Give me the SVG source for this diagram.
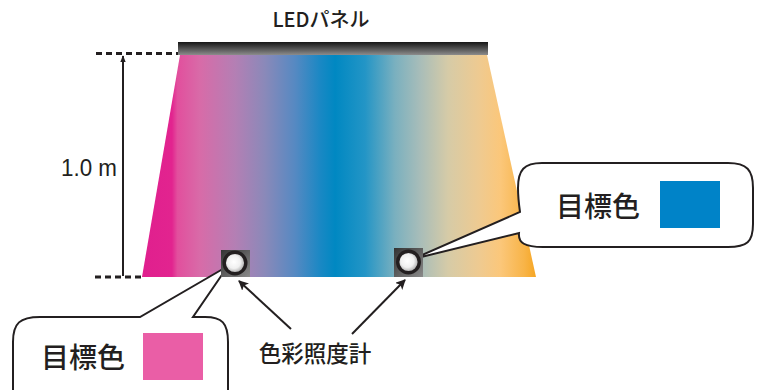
<svg xmlns="http://www.w3.org/2000/svg" width="764" height="390" viewBox="0 0 764 390">
<style>
.ln{stroke:#231f20;stroke-width:2;fill:none}
.dash{stroke:#231f20;stroke-width:2.8;stroke-dasharray:6,4;fill:none}
.bub{fill:#fff;stroke:#231f20;stroke-width:2;stroke-linejoin:miter}
.jp{font-family:"Noto Sans CJK JP","Noto Sans",sans-serif;fill:#231f20}
.lat{font-family:"Liberation Sans",Arial,sans-serif;fill:#231f20}
</style>
<defs>
<linearGradient id="spec" gradientUnits="userSpaceOnUse" x1="142" y1="0" x2="536" y2="0">
<stop offset="0" stop-color="#e01f8e"/>
<stop offset="0.076" stop-color="#e2248f"/>
<stop offset="0.09" stop-color="#e24f9d"/>
<stop offset="0.147" stop-color="#d86ba8"/>
<stop offset="0.236" stop-color="#b47fb4"/>
<stop offset="0.312" stop-color="#8a89b9"/>
<stop offset="0.388" stop-color="#5689c2"/>
<stop offset="0.452" stop-color="#1a88c4"/>
<stop offset="0.49" stop-color="#0088c2"/>
<stop offset="0.566" stop-color="#2395c6"/>
<stop offset="0.642" stop-color="#7ab0bf"/>
<stop offset="0.706" stop-color="#a8bdb9"/>
<stop offset="0.777" stop-color="#d6cba7"/>
<stop offset="0.858" stop-color="#efca90"/>
<stop offset="0.91" stop-color="#fbc77a"/>
<stop offset="0.97" stop-color="#f8b448"/>
<stop offset="1" stop-color="#f6a623"/>
</linearGradient>
<linearGradient id="bar" x1="0" y1="0" x2="0" y2="1">
<stop offset="0" stop-color="#161616"/>
<stop offset="1" stop-color="#8c8c8c"/>
</linearGradient>
<linearGradient id="sq" x1="0" y1="0" x2="1" y2="1">
<stop offset="0" stop-color="#333"/>
<stop offset="1" stop-color="#8a8a8a"/>
</linearGradient>
<radialGradient id="lens" cx="0.45" cy="0.45" r="0.6">
<stop offset="0" stop-color="#fff"/>
<stop offset="0.5" stop-color="#f0f0f0"/>
<stop offset="1" stop-color="#8f8f8f"/>
</radialGradient>
<marker id="ah" viewBox="0 0 10 10" refX="9" refY="5" markerWidth="10" markerHeight="10" markerUnits="userSpaceOnUse" orient="auto">
<path d="M0,0 L10,5 L0,10 L2.5,5 Z" fill="#231f20"/>
</marker>
<marker id="ahs" viewBox="0 0 10 10" refX="9" refY="5" markerWidth="7" markerHeight="7" markerUnits="userSpaceOnUse" orient="auto">
<path d="M0,1 L10,5 L0,9 Z" fill="#231f20"/>
</marker>
</defs>

<g id="panel">
<text class="jp" x="321" y="27" font-size="20" font-weight="500" text-anchor="middle">LEDパネル</text>
<rect x="178" y="42" width="310" height="13" fill="url(#bar)"/>
</g>

<g id="light">
<polygon points="180,55 487,55 536,277 142,277" fill="url(#spec)"/>
</g>

<g id="dimension">
<line class="dash" x1="96" y1="53.5" x2="178" y2="53.5"/>
<line class="dash" x1="95" y1="277" x2="142" y2="277"/>
<line class="ln" x1="123" y1="276" x2="123" y2="56" marker-end="url(#ahs)"/>
<text class="lat" x="61" y="176" font-size="24" textLength="56" lengthAdjust="spacingAndGlyphs">1.0 m</text>
</g>

<g id="callout-right">
<path class="bub" d="M542,163 H728 C747,163 753,170 753,188 V224 C753,242 747,247 728,247 H543 C525,247 518,243 519,233 L413,259 L520,212 C519,205 518,198 518,188 C518,170 524,163 542,163 Z"/>
<text class="jp" x="556" y="217" font-size="28" font-weight="500">目標色</text>
<rect x="660" y="181" width="60" height="47" fill="#0083c8"/>
</g>

<g id="callout-left">
<path class="bub" d="M13,400 V342 C13,323 20,317 40,317 H140 L228,266 L193,317 H205 C222,317 228,323 228,342 V400 Z"/>
<text class="jp" x="41" y="368" font-size="28" font-weight="500">目標色</text>
<rect x="143" y="333" width="60" height="47" fill="#ea5ea6"/>
</g>

<g id="sensor-left">
<rect x="221" y="250" width="29" height="27" fill="url(#sq)"/>
<circle cx="235" cy="263" r="10.8" fill="url(#lens)" stroke="#231f20" stroke-width="3.4"/>
</g>

<g id="sensor-right">
<rect x="394" y="248" width="29" height="29" fill="url(#sq)"/>
<circle cx="408.5" cy="262" r="10.8" fill="url(#lens)" stroke="#231f20" stroke-width="3.4"/>
</g>

<g id="connectors">
<line class="ln" x1="291" y1="329" x2="239" y2="281" stroke-width="2.5" marker-end="url(#ah)"/>
<line class="ln" x1="352" y1="334" x2="405" y2="280" stroke-width="2.5" marker-end="url(#ah)"/>
</g>

<g id="meter-label">
<text class="jp" x="315" y="362" font-size="22.5" font-weight="500" text-anchor="middle">色彩照度計</text>
</g>
</svg>
